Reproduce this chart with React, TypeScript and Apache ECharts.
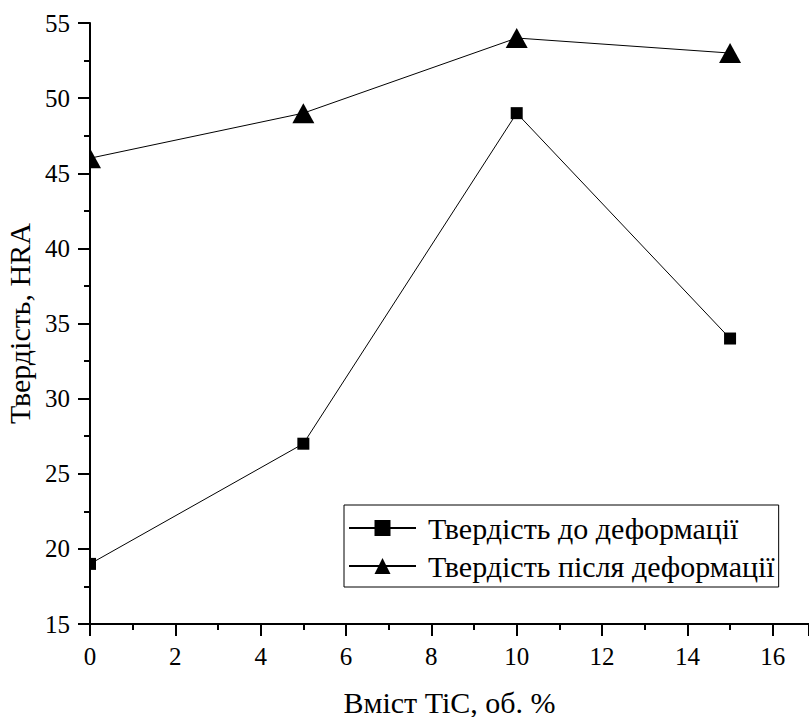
import React, { useEffect, useRef } from "react";
import * as echarts from "echarts";

const tiContent = [0, 5, 10, 15];
const hardnessBefore = [19, 27, 49, 34];
const hardnessAfter = [46, 49, 54, 53];
const seriesNames = ["Твердість до деформації", "Твердість після деформації"];
const xAxisName = "Вміст TiC, об. %";
const yAxisName = "Твердість, HRA";

const FONT = "Times New Roman, Liberation Serif, serif";

export default function App() {
  const ref = useRef<HTMLDivElement>(null);
  useEffect(() => {
    if (!ref.current) return;
    const chart = echarts.init(ref.current, null, { renderer: "svg" });
    const axisCommon = {
      axisLine: { show: true, lineStyle: { color: "#000", width: 2 } },
      axisTick: { show: true, inside: false, length: 12, lineStyle: { color: "#000", width: 2 } },
      minorTick: { show: true, splitNumber: 2, length: 6, lineStyle: { color: "#000", width: 2 } },
      splitLine: { show: false },
      minorSplitLine: { show: false },
      axisLabel: { color: "#000", fontFamily: FONT, fontSize: 25 },
      nameTextStyle: { color: "#000", fontFamily: FONT, fontSize: 30 },
    };
    chart.setOption({
      animation: false,
      backgroundColor: "#fff",
      textStyle: { fontFamily: FONT },
      grid: { left: 90, top: 23, right: 0, bottom: 93, outerBoundsMode: "none", containLabel: false },
      xAxis: {
        type: "value",
        min: 0,
        max: 16.85,
        interval: 2,
        name: xAxisName,
        nameLocation: "middle",
        nameGap: 63,
        ...axisCommon,
        axisLabel: {
          ...axisCommon.axisLabel,
          margin: 20,
          showMaxLabel: false,
          formatter: (v: number) => (Math.abs(v % 2) < 1e-9 ? String(v) : ""),
        },
      },
      yAxis: {
        type: "value",
        min: 15,
        max: 55,
        interval: 5,
        name: yAxisName,
        nameLocation: "middle",
        nameGap: 54,
        ...axisCommon,
        axisLabel: { ...axisCommon.axisLabel, margin: 20 },
      },
      legend: {
        left: 344,
        top: 505,
        orient: "vertical",
        borderColor: "#000",
        borderWidth: 1,
        padding: [7, 4, 5, 4],
        itemGap: 6,
        itemWidth: 67,
        itemHeight: 20,
        textStyle: { color: "#000", fontFamily: FONT, fontSize: 30, lineHeight: 32, padding: [0, 0, 0, 7] },
        data: seriesNames,
      },
      series: [
        {
          name: seriesNames[0],
          type: "line",
          data: tiContent.map((x, i) => [x, hardnessBefore[i]]),
          symbol: "rect",
          symbolSize: 12,
          lineStyle: { color: "#000", width: 1 },
          itemStyle: { color: "#000" },
          clip: true,
        },
        {
          name: seriesNames[1],
          type: "line",
          data: tiContent.map((x, i) => [x, hardnessAfter[i]]),
          symbol: "triangle",
          symbolSize: [22, 20],
          lineStyle: { color: "#000", width: 1 },
          itemStyle: { color: "#000" },
          clip: true,
        },
      ],
    });
    const graphics: any[] = [];
    const addMask = (x: number, y: number) => {
      const p = chart.convertToPixel({ gridIndex: 0 }, [x, y]);
      if (!p) return;
      graphics.push({
        type: "rect",
        z: 100,
        shape: { x: p[0] - 14, y: p[1] - 11, width: 13, height: 22 },
        style: { fill: "#fff" },
        silent: true,
      });
    };
    tiContent.forEach((x, i) => {
      if (x === 0) {
        addMask(x, hardnessBefore[i]);
        addMask(x, hardnessAfter[i]);
      }
    });
    chart.setOption({ graphic: graphics });
    return () => chart.dispose();
  }, []);
  return <div ref={ref} style={{ width: 809, height: 717, position: "absolute", left: 0, top: 0 }} />;
}
